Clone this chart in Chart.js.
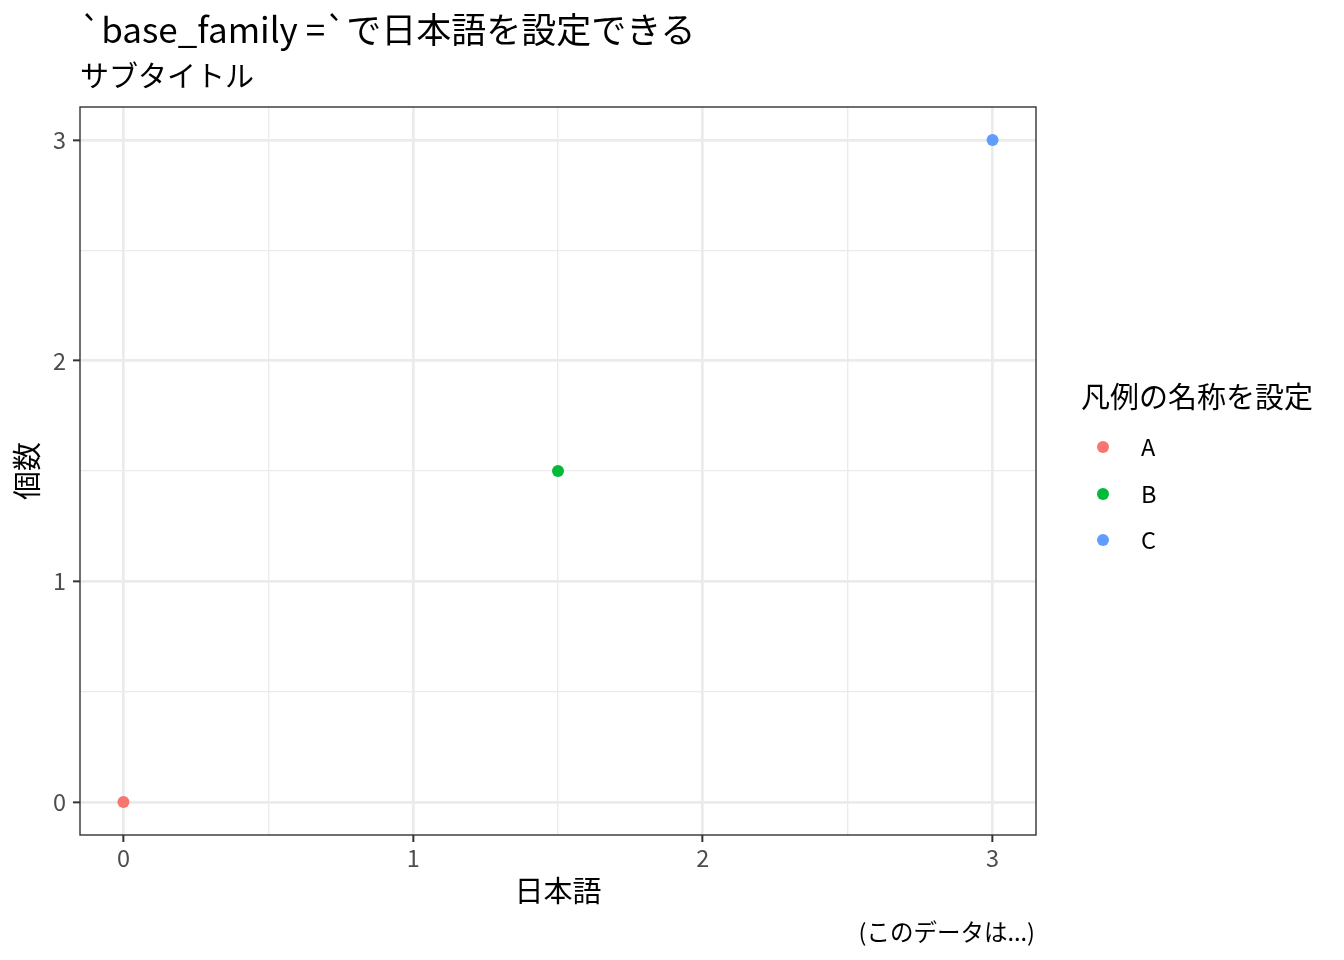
<!DOCTYPE html>
<html><head><meta charset="utf-8">
<script src="https://cdn.jsdelivr.net/npm/chart.js@4.4.1/dist/chart.umd.min.js"></script>
<style>
html,body{margin:0;padding:0;background:#fff;}
#wrap{position:relative;width:1344px;height:960px;font-family:"Noto Sans CJK JP","Noto Sans",sans-serif;color:#000;overflow:hidden;}
#wrap canvas{position:absolute;left:0;top:0;}
.t{position:absolute;white-space:nowrap;line-height:1;}
.key{position:absolute;width:12px;height:12px;border-radius:50%;}
</style></head><body>
<div id="wrap">
<canvas id="c" width="1344" height="960"></canvas>
<div class="t" id="title" style="left:80px;top:10px;font-size:35px;"></div>
<div class="t" id="subtitle" style="left:80px;top:60px;font-size:29px;"></div>
<div class="t" id="legendTitle" style="left:1081px;top:381px;font-size:29px;"></div>
<div id="legendItems"></div>
<div class="t" id="caption" style="right:309px;top:920px;font-size:23.5px;"></div>
</div>
<script>
// ---- data ----
const groups = ['A', 'B', 'C'];
const xValues = [0, 1.5, 3];
const yValues = [0, 1.5, 3];
const groupColors = ['#F8766D', '#00BA38', '#619CFF'];
const tickValues = [0, 0.5, 1, 1.5, 2, 2.5, 3];
const axisRange = [-0.15, 3.15];
const titleText = '`base_family =`で日本語を設定できる';
const subtitleText = 'サブタイトル';
const xTitle = '日本語';
const yTitle = '個数';
const legendTitleText = '凡例の名称を設定';
const captionText = '(このデータは...)';

// ---- text ----
document.getElementById('title').textContent = titleText;
document.getElementById('subtitle').textContent = subtitleText;
document.getElementById('legendTitle').textContent = legendTitleText;
document.getElementById('caption').textContent = captionText;
const legendBox = document.getElementById('legendItems');
groups.forEach((g, i) => {
  const cy = 447 + i * 46.5;
  const k = document.createElement('div');
  k.className = 'key';
  k.style.left = (1103 - 6) + 'px';
  k.style.top = (cy - 6) + 'px';
  k.style.background = groupColors[i];
  legendBox.appendChild(k);
  const l = document.createElement('div');
  l.className = 't';
  l.textContent = g;
  l.style.left = '1141px';
  l.style.top = (cy - 12) + 'px';
  l.style.fontSize = '23.5px';
  legendBox.appendChild(l);
});

// ---- chart ----
const FONT = '"Noto Sans CJK JP","Noto Sans",sans-serif';
Chart.defaults.font.family = FONT;
const isMajor = v => Math.abs(v - Math.round(v)) < 1e-9;

const panelBorder = {
  id: 'panelBorder',
  afterDatasetsDraw(chart) {
    const a = chart.chartArea, ctx = chart.ctx;
    ctx.save();
    ctx.strokeStyle = '#333333';
    ctx.lineWidth = 1.4;
    ctx.strokeRect(a.left, a.top, a.right - a.left, a.bottom - a.top);
    ctx.restore();
  }
};

function axisOpts(isX) {
  return {
    type: 'linear',
    position: isX ? 'bottom' : 'left',
    min: axisRange[0],
    max: axisRange[1],
    afterBuildTicks: s => { s.ticks = tickValues.map(v => ({ value: v })); },
    afterFit: s => { if (isX) s.height = 125; else s.width = 80; },
    border: { display: false },
    grid: {
      color: '#EBEBEB',
      lineWidth: c => isMajor(c.tick.value) ? 2.7 : 1.35,
      drawTicks: true,
      tickLength: 7,
      tickColor: c => isMajor(c.tick.value) ? '#333333' : 'rgba(0,0,0,0)',
      tickWidth: 2
    },
    ticks: {
      color: '#4D4D4D',
      font: { size: 23.5, family: FONT },
      padding: isX ? 2 : 7,
      maxRotation: 0,
      autoSkip: false,
      callback: v => isMajor(v) ? String(Math.round(v)) : ''
    },
    title: {
      display: true,
      text: isX ? xTitle : yTitle,
      color: '#000000',
      font: { size: 29, family: FONT },
      padding: isX ? { top: 0, bottom: 52 } : { top: 10, bottom: 0 }
    }
  };
}

new Chart(document.getElementById('c'), {
  type: 'scatter',
  data: {
    datasets: groups.map((g, i) => ({
      label: g,
      data: [{ x: xValues[i], y: yValues[i] }],
      backgroundColor: groupColors[i],
      borderWidth: 0,
      pointRadius: 6,
      pointHoverRadius: 6
    }))
  },
  options: {
    responsive: false,
    animation: false,
    devicePixelRatio: 1,
    layout: { padding: { top: 107, right: 308, left: 0, bottom: 0 } },
    plugins: { legend: { display: false }, title: { display: false }, tooltip: { enabled: false } },
    scales: { x: axisOpts(true), y: axisOpts(false) }
  },
  plugins: [panelBorder]
});
</script>
</body></html>
